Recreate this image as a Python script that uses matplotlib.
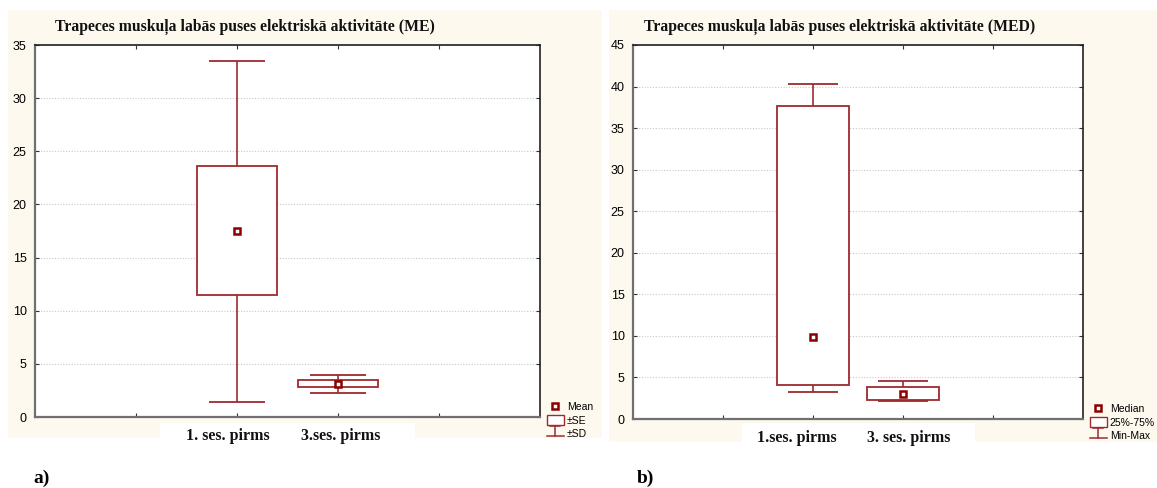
import matplotlib.pyplot as plt
import numpy as np
from matplotlib.patches import Rectangle, Patch
from matplotlib.lines import Line2D

# ── data ────────────────────────────────────────────────
cats_a   = ['1. ses. pirms', '3.ses. pirms']
mean_a   = [17.5, 3.15]
se_lo_a  = [11.5, 2.78]
se_hi_a  = [23.6, 3.48]
sd_lo_a  = [1.45, 2.3]
sd_hi_a  = [33.5, 3.93]

cats_b   = ['1.ses. pirms', '3. ses. pirms']
median_b = [9.9, 3.05]
q1_b     = [4.1, 2.3]
q3_b     = [37.7, 3.86]
min_b    = [3.3, 2.17]
max_b    = [40.3, 4.6]

title_a = 'Trapeces muskuļa labās puses elektriskā aktivitāte (ME)'
title_b = 'Trapeces muskuļa labās puses elektriskā aktivitāte (MED)'
legend_a = ['Mean', '±SE', '±SD']
legend_b = ['Median', '25%-75%', 'Min-Max']

# ── styling ─────────────────────────────────────────────
RED   = '#9e2a2e'
CREAM = '#fdf9ee'
BOXW  = 0.8
CAPW  = 0.56
label_shift_a = [-0.09, 0.03]
label_shift_b = [-0.18, 0.06]

W, H = 1157, 488
fig = plt.figure(figsize=(W / 100, H / 100), dpi=100)


def px(x0, y0, x1, y1):
    # pixel box (top-left origin) -> figure fraction rect
    return [x0 / W, 1 - y1 / H, (x1 - x0) / W, (y1 - y0) / H]


# cream panels and white label strips behind everything
for rect, col in [(px(8, 10, 602, 438), CREAM), (px(609, 10, W, 442), CREAM),
                  (px(160, 423, 415, 440), 'white'), (px(742, 423, 975, 442), 'white')]:
    fig.patches.append(Rectangle((rect[0], rect[1]), rect[2], rect[3],
                                 transform=fig.transFigure, fc=col, ec='none', zorder=-10))


class IBeamHandler:
    def legend_artist(self, legend, orig_handle, fontsize, handlebox):
        x0, y0 = handlebox.xdescent, handlebox.ydescent
        w, h = handlebox.width, handlebox.height
        tr = handlebox.get_transform()
        cx = x0 + w / 2
        segs = [([x0, x0 + w], [y0, y0]),
                ([cx - w * 0.3, cx + w * 0.3], [y0 + h, y0 + h]),
                ([cx, cx], [y0, y0 + h])]
        for xs, ys in segs:
            handlebox.add_artist(Line2D(xs, ys, color=RED, lw=1.1, transform=tr))
        return handlebox


def draw_panel(rect, cats, centre, lo_box, hi_box, lo_w, hi_w, ymax, shifts,
               title, title_x, leg_labels, leg_anchor):
    ax = fig.add_axes(rect)
    ax.set_facecolor('white')
    x = np.arange(1, len(cats) + 1)
    for i in range(len(cats)):
        ax.vlines(x[i], hi_box[i], hi_w[i], color=RED, lw=1.2)
        ax.vlines(x[i], lo_w[i], lo_box[i], color=RED, lw=1.2)
        ax.hlines([lo_w[i], hi_w[i]], x[i] - CAPW / 2, x[i] + CAPW / 2, color=RED, lw=1.3)
        ax.add_patch(Rectangle((x[i] - BOXW / 2, lo_box[i]), BOXW, hi_box[i] - lo_box[i],
                               fc='white', ec=RED, lw=1.3, zorder=3))
    ax.plot(x, centre, ls='none', marker='s', ms=5, mfc='white', mec='#8b0000',
            mew=1.8, zorder=4)

    ax.set_xlim(-1, 4)
    ax.set_ylim(0, ymax)
    ax.set_yticks(np.arange(0, ymax + 1, 5))
    ax.set_xticks([0, 1, 2, 3])
    ax.set_xticklabels([])
    ax.tick_params(axis='both', direction='in', length=3, top=True, right=True,
                   labelsize=9, colors='#333333', labelcolor='black', pad=6)
    for lab in ax.get_yticklabels():
        lab.set_family('Liberation Sans')
    ax.grid(axis='y', ls=(0, (1, 1.5)), color='#c8c8c8', lw=0.8)
    ax.set_axisbelow(True)
    for side in ['left', 'bottom']:
        ax.spines[side].set_color('#707070')
        ax.spines[side].set_linewidth(1.6)
    for side in ['top', 'right']:
        ax.spines[side].set_color('#222222')
        ax.spines[side].set_linewidth(1.2)

    for i, c in enumerate(cats):
        ax.text(x[i] + shifts[i], -0.03, c, transform=ax.get_xaxis_transform(),
                ha='center', va='top', family='Liberation Serif', weight='bold',
                fontsize=11.5, color='#111111')

    fig.text(title_x, 1 - 27 / H, title, ha='center', va='center',
             family='Liberation Serif', weight='bold', fontsize=11.3, color='#111111')

    handles = [Line2D([], [], ls='none', marker='s', ms=5, mfc='white', mec='#8b0000', mew=1.8),
               Patch(fc='white', ec=RED, lw=1.0),
               'ibeam']
    ax.legend(handles, leg_labels, handler_map={str: IBeamHandler()},
              loc='lower left', bbox_to_anchor=leg_anchor,
              bbox_transform=fig.transFigure, frameon=False,
              prop={'family': 'Liberation Sans', 'size': 7.5},
              handlelength=1.6, handleheight=1.05, handletextpad=0.3,
              labelspacing=0.28, borderpad=0, borderaxespad=0)
    return ax


draw_panel(px(35, 45, 540, 417), cats_a, mean_a, se_lo_a, se_hi_a, sd_lo_a, sd_hi_a,
           35, label_shift_a, title_a, 245 / W, legend_a, (547 / W, 1 - 439 / H))
draw_panel(px(633, 45, 1083, 419), cats_b, median_b, q1_b, q3_b, min_b, max_b,
           45, label_shift_b, title_b, 840 / W, legend_b, (1090 / W, 1 - 441 / H))

fig.text(33 / W, 1 - 478 / H, 'a)', ha='left', va='center', family='Liberation Serif',
         weight='bold', fontsize=14)
fig.text(637 / W, 1 - 478 / H, 'b)', ha='left', va='center', family='Liberation Serif',
         weight='bold', fontsize=14)

fig.savefig('out.png', dpi=100, facecolor='white')
